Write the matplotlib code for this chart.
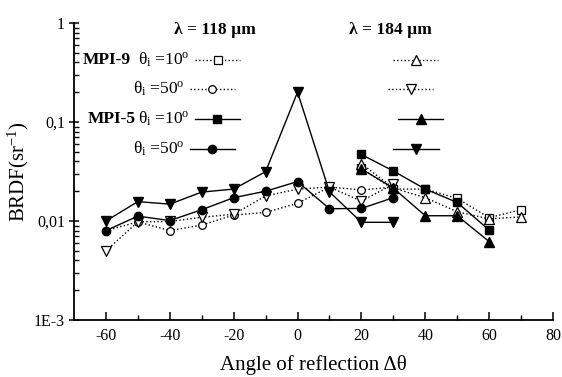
import matplotlib
matplotlib.use("Agg")
import matplotlib.pyplot as plt
from matplotlib.lines import Line2D
from matplotlib.ticker import FixedLocator, NullFormatter, LogLocator

plt.rcParams['font.family'] = ['Liberation Serif', 'DejaVu Serif']
plt.rcParams['mathtext.fontset'] = 'custom'
plt.rcParams['mathtext.rm'] = 'Liberation Serif'
plt.rcParams['mathtext.it'] = 'Liberation Serif:italic'
plt.rcParams['mathtext.bf'] = 'Liberation Serif:bold'

# ---- data ----
x_wide = [-60, -50, -40, -30, -20, -10, 0, 10, 20, 30]
mpi5_50_184 = [0.010, 0.0157, 0.0148, 0.0196, 0.021, 0.0315, 0.20, 0.0197, 0.0097, 0.0097]
mpi5_50_118 = [0.008, 0.0112, 0.0101, 0.013, 0.0172, 0.020, 0.025, 0.0133, 0.0134, 0.0172]
mpi9_50_184 = [0.005, 0.0098, 0.0099, 0.0109, 0.0117, 0.0179, 0.021, 0.022, 0.0159, 0.0235]
mpi9_50_118 = [0.008, 0.0098, 0.0080, 0.0091, 0.0115, 0.0122, 0.0151, 0.022, 0.0206, 0.022]

x_right5 = [20, 30, 40, 50, 60]
x_right9 = [20, 30, 40, 50, 60, 70]
mpi5_10_118 = [0.047, 0.032, 0.021, 0.0154, 0.0081]
mpi9_10_118 = [0.034, 0.021, 0.021, 0.0169, 0.0108, 0.013]
mpi9_10_184 = [0.038, 0.0215, 0.0172, 0.0124, 0.0105, 0.011]
mpi5_10_184 = [0.0336, 0.0215, 0.0113, 0.0113, 0.0062]

x_ticks = [-60, -40, -20, 0, 20, 40, 60, 80]
y_ticks = [1e-3, 1e-2, 1e-1, 1]
y_ticklabels = ['1E-3', '0,01', '0,1', '1']

W, H = 562, 377
fig = plt.figure(figsize=(W / 100, H / 100), dpi=100)
L, R, T, B = 74, 553, 23, 320
ax = fig.add_axes([L / W, 1 - B / H, (R - L) / W, (B - T) / H])

lw = 1.0
open_kw = dict(markerfacecolor='white', markeredgecolor='black', markeredgewidth=0.9)
fill_kw = dict(markerfacecolor='black', markeredgecolor='black')

ax.plot(x_wide, mpi9_50_118, ls=':', color='black', lw=lw, marker='o', ms=5.5, **open_kw, zorder=2)
ax.plot(x_wide, mpi9_50_184, ls=':', color='black', lw=lw, marker='v', ms=7, **open_kw, zorder=2)
ax.plot(x_right9, mpi9_10_118, ls=':', color='black', lw=lw, marker='s', ms=5.5, **open_kw, zorder=2)
ax.plot(x_right9, mpi9_10_184, ls=':', color='black', lw=lw, marker='^', ms=7, **open_kw, zorder=2)
ax.plot(x_wide, mpi5_50_118, ls='-', color='black', lw=lw, marker='o', ms=6, **fill_kw, zorder=3)
ax.plot(x_wide, mpi5_50_184, ls='-', color='black', lw=lw, marker='v', ms=7.5, **fill_kw, zorder=3)
ax.plot(x_right5, mpi5_10_118, ls='-', color='black', lw=lw, marker='s', ms=5.5, **fill_kw, zorder=3)
ax.plot(x_right5, mpi5_10_184, ls='-', color='black', lw=lw, marker='^', ms=7.5, **fill_kw, zorder=3)

ax.set_yscale('log')
ax.set_ylim(1e-3, 1)
ax.set_xlim(-70, 80)
ax.set_xticks(x_ticks)
ax.set_xticklabels([str(v) for v in x_ticks])
ax.xaxis.set_minor_locator(FixedLocator([-50, -30, -10, 10, 30, 50, 70]))
ax.set_yticks(y_ticks)
ax.set_yticklabels(y_ticklabels)
ax.yaxis.set_minor_locator(LogLocator(base=10, subs=range(2, 10)))
ax.yaxis.set_minor_formatter(NullFormatter())

for s in ['top', 'right']:
    ax.spines[s].set_visible(False)
for s in ['left', 'bottom']:
    ax.spines[s].set_linewidth(1.3)

ax.tick_params(axis='x', which='major', direction='in', length=6, width=1.1, labelsize=11.5, pad=6)
ax.tick_params(axis='x', which='minor', direction='in', length=3.5, width=1.0)
ax.tick_params(axis='y', which='major', direction='inout', length=7, width=1.1, labelsize=11.5, pad=3)
ax.tick_params(axis='y', which='minor', direction='in', length=3.5, width=1.0)

ax.set_xlabel('Angle of reflection Δθ', fontsize=15, labelpad=8)
ax.set_ylabel(r'BRDF(sr$^{-1}$)', fontsize=15, labelpad=2)

# ---- custom legend ----
def ax_xy(px, py):
    return (px - L) / (R - L), (B - py) / (B - T)

tr = ax.transAxes

def sample(x0, x1, xm, py, ls, marker, ms, kw):
    a0, ay = ax_xy(x0, py)
    a1, _ = ax_xy(x1, py)
    am, _ = ax_xy(xm, py)
    ax.add_line(Line2D([a0, a1], [ay, ay], transform=tr, ls=ls, color='black', lw=lw, clip_on=False))
    ax.add_line(Line2D([am], [ay], transform=tr, ls='none', marker=marker, ms=ms, clip_on=False, **kw))

def txt(px, py, s, ha='left', **kw):
    a, b = ax_xy(px, py)
    ax.text(a, b, s, transform=tr, ha=ha, va='center', **kw)

txt(215, 30, 'λ = 118 µm', ha='center', fontsize=12.5, fontweight='bold')
txt(390, 30, 'λ = 184 µm', ha='center', fontsize=12.5, fontweight='bold')

rows = [60, 89, 119, 149]
txt(131, rows[0], 'MPI-9', ha='right', fontsize=12.5, fontweight='bold')
txt(136, rows[2], 'MPI-5', ha='right', fontsize=12.5, fontweight='bold')
txt(138, rows[0], r'θ$_\mathrm{i}$ =10$^\mathrm{o}$', fontsize=12.5)
txt(133, rows[1], r'θ$_\mathrm{i}$ =50$^\mathrm{o}$', fontsize=12.5)
txt(138, rows[2], r'θ$_\mathrm{i}$ =10$^\mathrm{o}$', fontsize=12.5)
txt(133, rows[3], r'θ$_\mathrm{i}$ =50$^\mathrm{o}$', fontsize=12.5)

sample(195, 240, 218, rows[0], ':', 's', 5.5, open_kw)
sample(190, 235, 212, rows[1], ':', 'o', 5.5, open_kw)
sample(195, 240, 217, rows[2], '-', 's', 5.5, fill_kw)
sample(190, 235, 212, rows[3], '-', 'o', 6, fill_kw)

sample(393, 438, 416, rows[0], ':', '^', 7, open_kw)
sample(388, 433, 411, rows[1], ':', 'v', 7, open_kw)
sample(398, 443, 421, rows[2], '-', '^', 7.5, fill_kw)
sample(393, 439, 416, rows[3], '-', 'v', 7.5, fill_kw)

fig.savefig('out.png', dpi=100)
